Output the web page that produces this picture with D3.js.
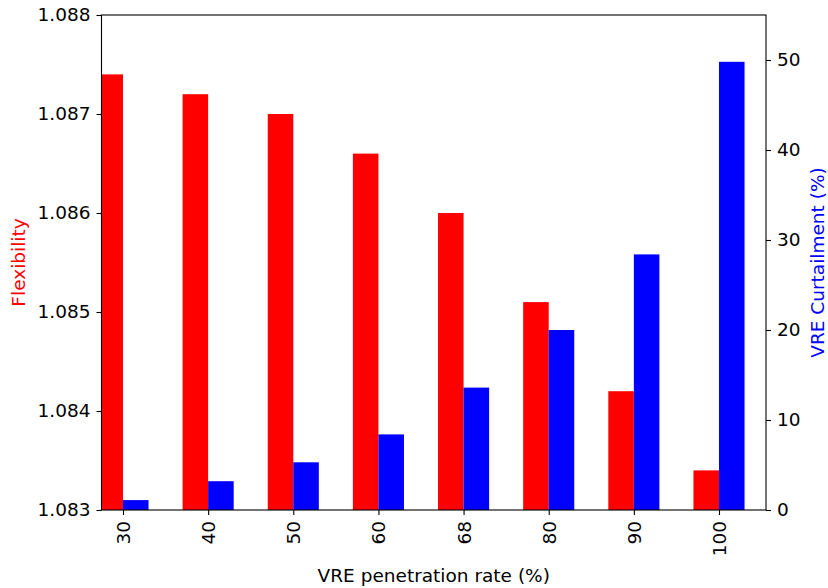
<!DOCTYPE html>
<html>
<head>
<meta charset="utf-8">
<script src="https://cdn.jsdelivr.net/npm/d3@7/dist/d3.min.js"></script>
<style>
  html, body { margin: 0; padding: 0; background: #fff; }
  svg { display: block; }
  text { font-family: "DejaVu Sans", sans-serif; }
</style>
</head>
<body>
<svg id="chart" width="828" height="588"></svg>
<script>
// VRE penetration levels (%) on the x axis
const categories = ["30", "40", "50", "60", "68", "80", "90", "100"];
// System flexibility index (left axis)
const flexibility = [1.0874, 1.0872, 1.0870, 1.0866, 1.0860, 1.0851, 1.0842, 1.0834];
// VRE curtailment in percent (right axis)
const curtailment = [1.1, 3.2, 5.3, 8.4, 13.6, 20.0, 28.4, 49.8];
// Axis ticks
const leftTicks = [1.083, 1.084, 1.085, 1.086, 1.087, 1.088];
const rightTicks = [0, 10, 20, 30, 40, 50];

const m = { left: 101.5, right: 766, top: 15, bottom: 510 };
const fontSize = 18.5;

const svg = d3.select("#chart");

const x = d3.scaleLinear().domain([-0.2525, 7.552]).range([m.left, m.right]);
const yL = d3.scaleLinear().domain([1.083, 1.088]).range([m.bottom, m.top]);
const yR = d3.scaleLinear().domain([0, 55]).range([m.bottom, m.top]);
const barW = 0.3;

svg.append("defs").append("clipPath").attr("id", "plot-clip")
  .append("rect")
  .attr("x", m.left).attr("y", m.top)
  .attr("width", m.right - m.left).attr("height", m.bottom - m.top);

const plot = svg.append("g").attr("clip-path", "url(#plot-clip)");

// Flexibility bars, left of each tick
plot.selectAll("rect.flex").data(flexibility).join("rect")
  .attr("class", "flex")
  .attr("x", (d, i) => x(i - barW))
  .attr("width", (d, i) => x(i) - x(i - barW))
  .attr("y", d => yL(d))
  .attr("height", d => yL(1.083) - yL(d))
  .attr("fill", "#ff0000");

// Curtailment bars, right of each tick
plot.selectAll("rect.curt").data(curtailment).join("rect")
  .attr("class", "curt")
  .attr("x", (d, i) => x(i))
  .attr("width", (d, i) => x(i + barW) - x(i))
  .attr("y", d => yR(d))
  .attr("height", d => yR(0) - yR(d))
  .attr("fill", "#0000ff");

// Axes
const styleAxis = g => {
  g.selectAll("text").attr("font-size", fontSize).attr("fill", "#000")
    .attr("font-family", "DejaVu Sans, sans-serif");
  g.selectAll("line").attr("stroke", "#000").attr("stroke-width", 1.1);
  g.select(".domain").remove();
};

svg.append("g").attr("transform", `translate(${m.left},0)`)
  .call(d3.axisLeft(yL).tickValues(leftTicks).tickFormat(d3.format(".3f")).tickSize(5).tickPadding(6))
  .call(styleAxis);

svg.append("g").attr("transform", `translate(${m.right},0)`)
  .call(d3.axisRight(yR).tickValues(rightTicks).tickFormat(d3.format("d")).tickSize(5).tickPadding(6))
  .call(styleAxis);

const xAxis = svg.append("g").attr("transform", `translate(0,${m.bottom})`)
  .call(d3.axisBottom(x).tickValues(d3.range(categories.length)).tickFormat(i => categories[i]).tickSize(5).tickPadding(6))
  .call(styleAxis);
xAxis.selectAll("text")
  .attr("transform", "rotate(-90)")
  .attr("text-anchor", "end")
  .attr("x", -11).attr("y", 0).attr("dy", "0.35em");

// Frame
svg.append("rect")
  .attr("x", m.left).attr("y", m.top)
  .attr("width", m.right - m.left).attr("height", m.bottom - m.top)
  .attr("fill", "none").attr("stroke", "#000").attr("stroke-width", 1.1);

// Axis titles
svg.append("text")
  .attr("x", (m.left + m.right) / 2).attr("y", 581.5)
  .attr("text-anchor", "middle").attr("font-size", fontSize).attr("fill", "#000")
  .text("VRE penetration rate (%)");

svg.append("text")
  .attr("transform", `translate(25,${(m.top + m.bottom) / 2}) rotate(-90)`)
  .attr("text-anchor", "middle").attr("font-size", fontSize).attr("fill", "#ff0000")
  .text("Flexibility");

svg.append("text")
  .attr("transform", `translate(824,${(m.top + m.bottom) / 2}) rotate(-90)`)
  .attr("text-anchor", "middle").attr("font-size", fontSize).attr("fill", "#0000ff")
  .text("VRE Curtailment (%)");
</script>
</body>
</html>
